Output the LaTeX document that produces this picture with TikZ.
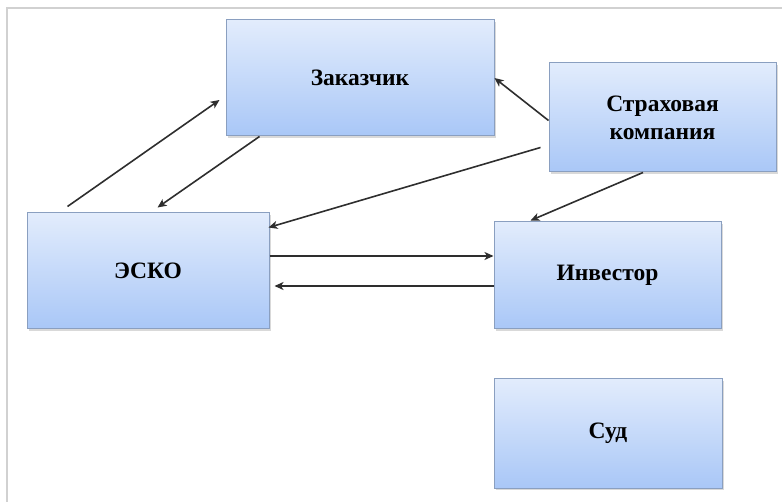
\documentclass[tikz,border=0pt]{standalone}
\usepackage{fontspec}
\setmainfont{Liberation Serif}
\usetikzlibrary{calc,shadows,arrows.meta}
\definecolor{blokverh}{HTML}{E2ECFC}
\definecolor{bloknis}{HTML}{A9C7F7}
\definecolor{blokkrai}{HTML}{8A9FC0}

\begin{document}
\begin{tikzpicture}[x=1pt, y=-1pt,
    blok/.style={draw=blokkrai, line width=1pt, top color=blokverh, bottom color=bloknis,
        drop shadow={shadow xshift=1.5pt, shadow yshift=-2pt, opacity=0.3},
        align=center, font=\fontsize{23.5}{28}\selectfont\bfseries},
    svyaz/.style={-{Stealth[length=9pt, width=8pt, inset=2.5pt]}, line width=1.6pt, black!82}]
            \useasboundingbox (0,0) rectangle (782,502);
            \draw[black!18, line width=2.2pt] (7,510) -- (7,8) -- (790,8);

            \node[blok, minimum width=268pt, minimum height=116pt] (zakazchik) at (360,78) {Заказчик};
            \node[blok, minimum width=227pt, minimum height=109pt] (strah) at (662.5,117.5) {Страховая\\компания};
            \node[blok, minimum width=242pt, minimum height=116pt] (esko) at (148,271) {ЭСКО};
            \node[blok, minimum width=227pt, minimum height=107pt] (investor) at (607.5,275.5) {Инвестор};
            \node[blok, minimum width=228pt, minimum height=109pt] (sud) at (608,433.5) {Суд};

            \draw[svyaz] ($(esko.north west)+(41,-6)$) -- ($(zakazchik.west)+(-6,22)$);
            \draw[svyaz] ($(zakazchik.south west)+(34,0)$) -- ($(esko.north west)+(131,-5)$);
            \draw[svyaz] ($(strah.west)+(0,3)$) -- ($(zakazchik.east)+(0,0)$);
            \draw[svyaz] ($(strah.west)+(-8,30)$) -- ($(esko.north east)+(-1,15)$);
            \draw[svyaz] ($(strah.south)+(-19.5,0)$) -- ($(investor.north west)+(37,-1)$);
            \draw[svyaz] ($(esko.east)+(0,-15)$) -- ($(investor.west)+(0,-19.5)$);
            \draw[svyaz] ($(investor.west)+(0,10.5)$) -- ($(esko.east)+(5,15)$);
        \end{tikzpicture}
\end{document}
